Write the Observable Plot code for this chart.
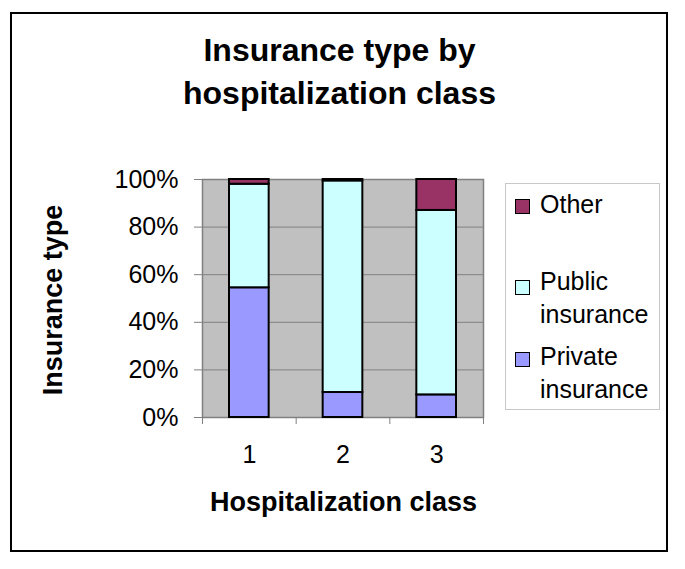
<!DOCTYPE html>
<html>
<head>
<meta charset="utf-8">
<script src="https://cdn.jsdelivr.net/npm/d3@7"></script>
<script src="https://cdn.jsdelivr.net/npm/@observablehq/plot@0.6"></script>
<style>
  html, body { margin: 0; padding: 0; background: #fff; }
  #wrap { position: relative; width: 685px; height: 569px; font-family: "Liberation Sans", Arial, sans-serif; color: #000; overflow: hidden; }
  #border { position: absolute; left: 10px; top: 12px; width: 658px; height: 540px; border: 2px solid #000; box-sizing: border-box; }
  #title { position: absolute; left: 0; width: 679px; top: 29px; text-align: center; font-weight: bold; font-size: 32px; line-height: 43px; }
  #xtitle { position: absolute; left: 0; width: 687px; top: 489px; text-align: center; font-weight: bold; font-size: 27px; line-height: 27px; }
  #ytitle { position: absolute; left: 53px; top: 300px; transform: translate(-50%, -50%) rotate(-90deg); font-weight: bold; font-size: 27px; line-height: 27px; white-space: nowrap; }
  #legend { position: absolute; left: 505px; top: 183px; width: 155px; height: 227px; border: 1px solid #c8c8c8; box-sizing: border-box; }
  .sw { position: absolute; left: 515px; width: 15px; height: 15px; border: 1.5px solid #000; box-sizing: border-box; }
  .lt { position: absolute; left: 540px; font-size: 25px; line-height: 33px; white-space: nowrap; }
  #chart { position: absolute; left: 0; top: 0; }
</style>
</head>
<body>
<div id="wrap">
  <div id="chart"></div>
  <div id="border"></div>
  <div id="title">Insurance type by<br>hospitalization class</div>
  <div id="xtitle">Hospitalization class</div>
  <div id="ytitle">Insurance type</div>
  <div id="legend"></div>
</div>
<script>
const classes = [1, 2, 3];
const types = ["Private insurance", "Public insurance", "Other"];
const colors = ["#9999ff", "#ccffff", "#993366"];
const privateInsurance = [0.545, 0.105, 0.095];
const publicInsurance = [0.435, 0.889, 0.775];
const other = [0.020, 0.006, 0.130];
const yTicks = [0, 0.2, 0.4, 0.6, 0.8, 1];
const legendOrder = ["Other", "Public insurance", "Private insurance"];
const legendLines = { "Other": ["Other"], "Public insurance": ["Public", "insurance"], "Private insurance": ["Private", "insurance"] };

const series = [privateInsurance, publicInsurance, other];
const data = [];
classes.forEach((c, i) => types.forEach((t, j) => data.push({ cls: c, type: t, value: series[j][i] })));

const chart = Plot.plot({
  width: 685,
  height: 569,
  marginLeft: 202,
  marginRight: 202,
  marginTop: 179,
  marginBottom: 152,
  style: { fontFamily: "Liberation Sans, Arial, sans-serif", background: "transparent", color: "#000" },
  x: { type: "linear", domain: [0.5, 3.5] },
  y: { domain: [0, 1] },
  color: { domain: types, range: colors },
  marks: [
    Plot.frame({ fill: "#c0c0c0", stroke: null }),
    Plot.gridY(yTicks, { stroke: "#808080", strokeOpacity: 1, strokeWidth: 1 }),
    Plot.frame({ stroke: "#808080", strokeWidth: 1.5 }),
    Plot.rectY(data, {
      x1: d => d.cls - 0.5,
      x2: d => d.cls + 0.5,
      y: "value",
      fill: "type",
      order: types,
      stroke: "#000",
      strokeWidth: 2,
      insetLeft: 27,
      insetRight: 27
    }),
    Plot.axisY({ ticks: yTicks, tickFormat: d3.format(".0%"), tickSize: 8, tickPadding: 16, fontSize: 25, label: null, stroke: "#808080", fill: "#000" }),
    Plot.axisX({ ticks: [0.5, 1.5, 2.5, 3.5], tickFormat: () => "", tickSize: 7, label: null, stroke: "#808080" }),
    Plot.axisX({ ticks: classes, tickFormat: d => String(d), tickSize: 0, tickPadding: 28, fontSize: 25, label: null, fill: "#000" })
  ]
});
document.getElementById("chart").appendChild(chart);

// legend
const wrap = document.getElementById("wrap");
const swTops = [199, 280, 352];
const txtTops = [188, 265, 340];
legendOrder.forEach((t, k) => {
  const sw = document.createElement("div");
  sw.className = "sw";
  sw.style.top = swTops[k] + "px";
  sw.style.background = colors[types.indexOf(t)];
  wrap.appendChild(sw);
  const lt = document.createElement("div");
  lt.className = "lt";
  lt.style.top = txtTops[k] + "px";
  lt.innerHTML = legendLines[t].join("<br>");
  wrap.appendChild(lt);
});
</script>
</body>
</html>
